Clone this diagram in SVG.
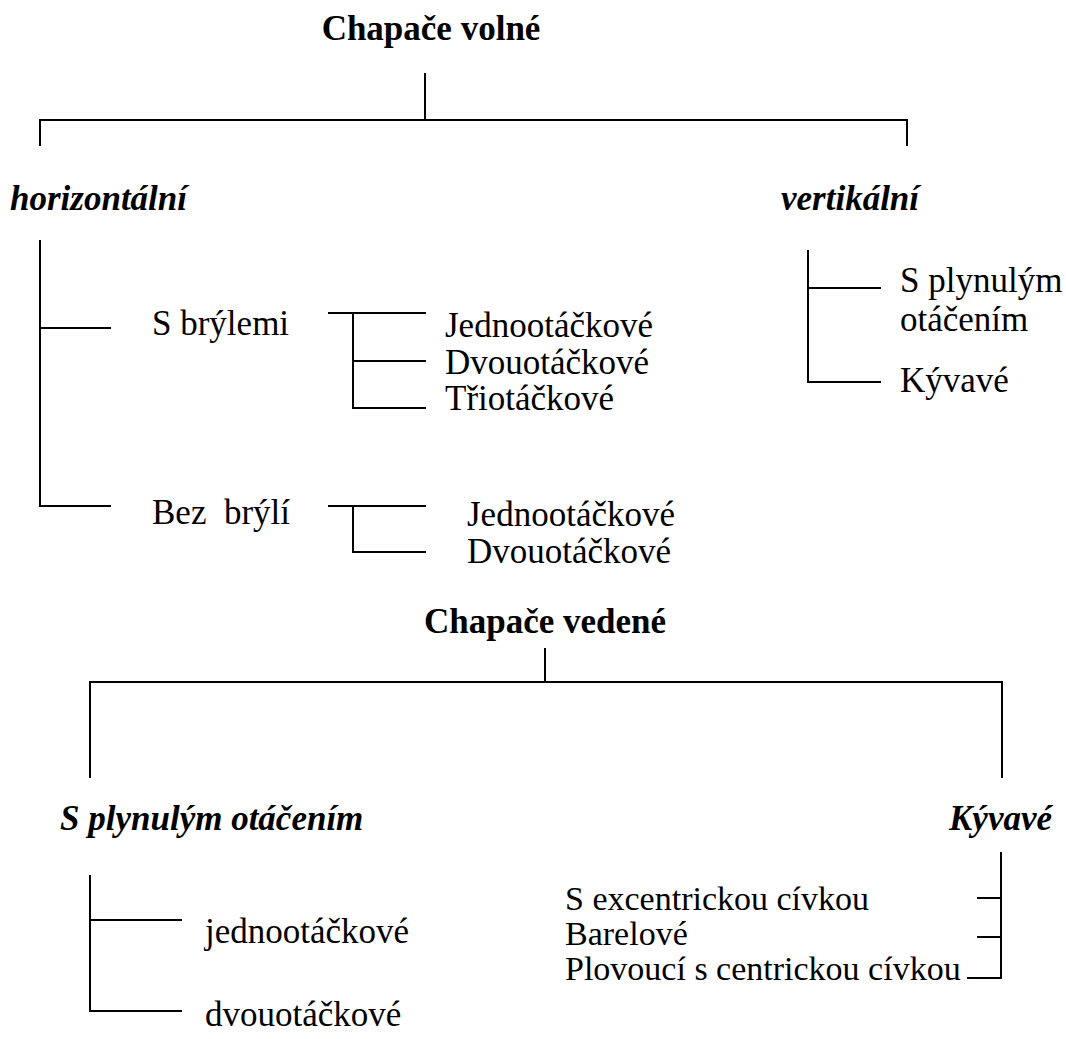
<svg xmlns="http://www.w3.org/2000/svg" width="1066" height="1039" viewBox="0 0 1066 1039">
<style>
text{font-family:"Liberation Serif","Times New Roman",serif;font-size:35px;fill:#000}
.b{font-weight:bold}
.bi{font-weight:bold;font-style:italic}
.s{font-size:34px}
.c line{stroke:#000;stroke-width:2;fill:none}
</style>
<rect width="1066" height="1039" fill="#fff"/>
<g class="c" id="connectors">
<line x1="425" y1="73" x2="425" y2="120"/>
<line x1="39" y1="120" x2="908" y2="120"/>
<line x1="40" y1="119" x2="40" y2="146"/>
<line x1="907" y1="119" x2="907" y2="146"/>
<line x1="40" y1="240" x2="40" y2="507"/>
<line x1="40" y1="328" x2="111" y2="328"/>
<line x1="39" y1="506" x2="111" y2="506"/>
<line x1="328" y1="313" x2="426" y2="313"/>
<line x1="353" y1="313" x2="353" y2="409"/>
<line x1="353" y1="361" x2="426" y2="361"/>
<line x1="352" y1="408" x2="426" y2="408"/>
<line x1="328" y1="506" x2="426" y2="506"/>
<line x1="353" y1="506" x2="353" y2="553"/>
<line x1="352" y1="552" x2="426" y2="552"/>
<line x1="808" y1="250" x2="808" y2="383"/>
<line x1="808" y1="288" x2="881" y2="288"/>
<line x1="807" y1="382" x2="881" y2="382"/>
<line x1="545" y1="648" x2="545" y2="682"/>
<line x1="89" y1="682" x2="1003" y2="682"/>
<line x1="90" y1="681" x2="90" y2="778"/>
<line x1="1002" y1="681" x2="1002" y2="778"/>
<line x1="90" y1="875" x2="90" y2="1012"/>
<line x1="90" y1="920" x2="182" y2="920"/>
<line x1="89" y1="1011" x2="182" y2="1011"/>
<line x1="1001" y1="852" x2="1001" y2="979"/>
<line x1="977" y1="898" x2="1001" y2="898"/>
<line x1="977" y1="937" x2="1001" y2="937"/>
<line x1="967" y1="978" x2="1002" y2="978"/>
</g>
<g id="n-volne"><text class="b" x="431" y="40" text-anchor="middle">Chapače volné</text></g>
<g id="n-horizontalni"><text class="bi" x="10" y="210">horizontální</text></g>
<g id="n-vertikalni"><text class="bi" x="781" y="210">vertikální</text></g>
<g id="n-s-brylemi"><text x="152" y="335">S brýlemi</text></g>
<g id="n-jedno1"><text x="445" y="337">Jednootáčkové</text></g>
<g id="n-dvou1"><text x="445" y="374">Dvouotáčkové</text></g>
<g id="n-tri1"><text x="445" y="410">Třiotáčkové</text></g>
<g id="n-bez-bryli"><text x="152" y="524" xml:space="preserve">Bez  brýlí</text></g>
<g id="n-jedno2"><text x="467" y="526">Jednootáčkové</text></g>
<g id="n-dvou2"><text x="467" y="563">Dvouotáčkové</text></g>
<g id="n-v-plynuly"><text x="900" y="292">S plynulým</text><text x="900" y="331">otáčením</text></g>
<g id="n-v-kyvave"><text x="900" y="392">Kývavé</text></g>
<g id="n-vedene"><text class="b" x="545" y="633" text-anchor="middle">Chapače vedené</text></g>
<g id="n-plynuly"><text class="bi" x="60" y="830">S plynulým otáčením</text></g>
<g id="n-kyvave"><text class="bi" x="1052" y="830" text-anchor="end">Kývavé</text></g>
<g id="n-jedno3"><text x="205" y="943">jednootáčkové</text></g>
<g id="n-dvou3"><text x="205" y="1026">dvouotáčkové</text></g>
<g id="n-excentr"><text class="s" x="565" y="910">S excentrickou cívkou</text></g>
<g id="n-barel"><text class="s" x="565" y="945">Barelové</text></g>
<g id="n-plovouci"><text class="s" x="565" y="980">Plovoucí s centrickou cívkou</text></g>
</svg>
